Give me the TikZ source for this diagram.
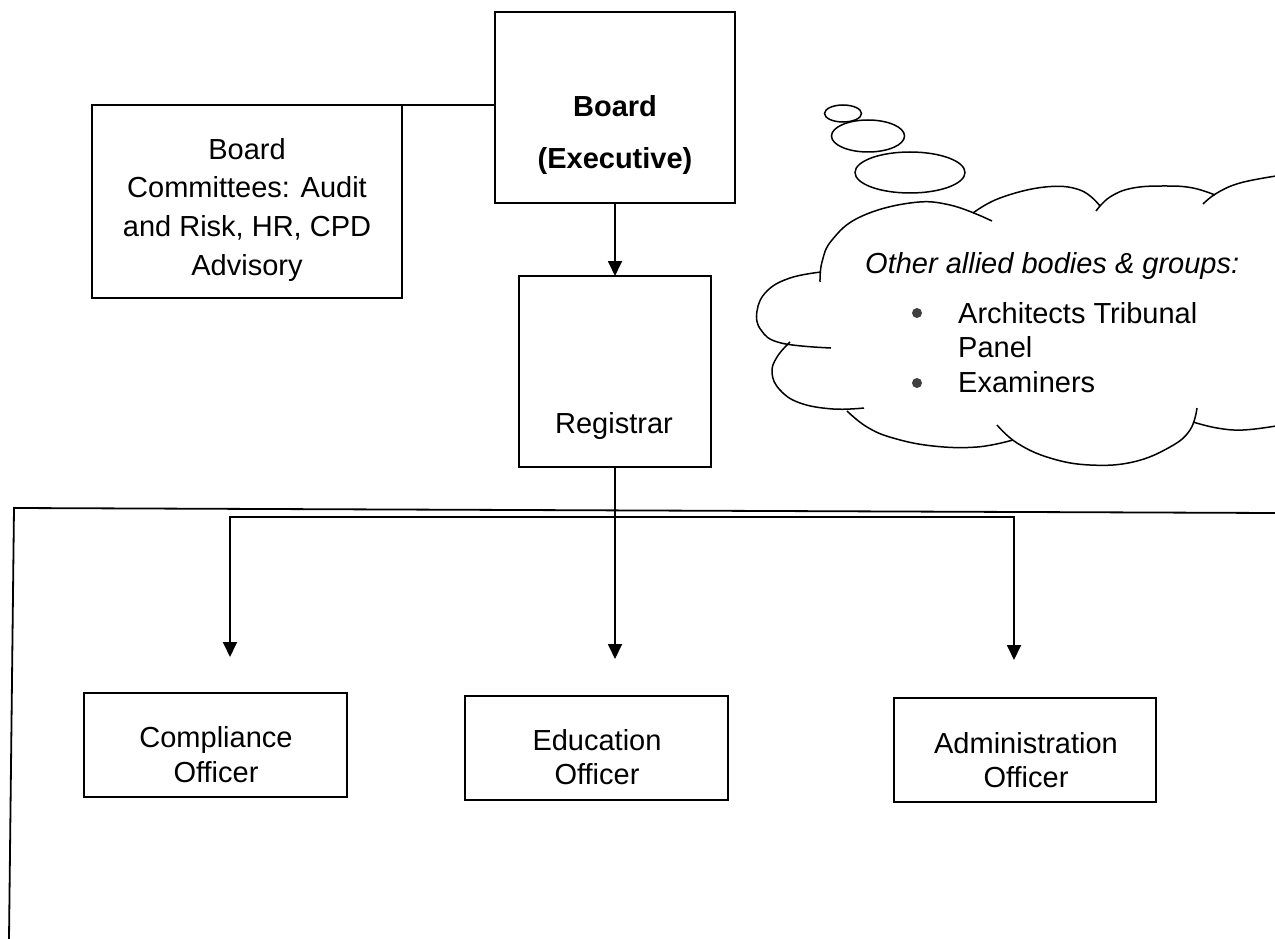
\documentclass[tikz,border=0pt]{standalone}
\usepackage{fontspec}
\setmainfont{Liberation Sans}
\usetikzlibrary{arrows.meta}
\begin{document}
\begin{tikzpicture}[x=1pt,y=-1pt,
  ln/.style={line width=1.8pt, line join=miter},
  box/.style={draw, line width=1.8pt, inner sep=0pt, outer sep=0pt},
  txt/.style={anchor=base, inner sep=0pt, font=\fontsize{29}{34}\selectfont},
  arr/.style={ln, -{Triangle[length=15pt,width=14pt]}},
  cl/.style={line width=1.5pt},
  bullet/.style={circle, fill=black!75, inner sep=0pt, minimum size=10pt}]
\useasboundingbox (0,0) rectangle (1275,939);
\fill[white] (0,0) rectangle (1275,939);

% boxes
\node[box, minimum width=240pt, minimum height=191pt] (board) at (615,107.5) {};
\node[box, minimum width=310pt, minimum height=193pt] (comm) at (247,201.5) {};
\node[box, minimum width=192pt, minimum height=191pt] (reg) at (615,371.5) {};
\node[box, minimum width=263pt, minimum height=104pt] (comp) at (215.5,745) {};
\node[box, minimum width=263pt, minimum height=104pt] (edu) at (596.5,748) {};
\node[box, minimum width=262pt, minimum height=104pt] (adm) at (1025,750) {};

% texts
\node[txt, font=\fontsize{29}{34}\selectfont\bfseries] (boardT1) at (615,117) {Board};
\node[txt, font=\fontsize{29}{34}\selectfont\bfseries] (boardT2) at (615,168) {(Executive)};
\node[txt] (commT1) at (247,160) {Board};
\node[txt] (commT2) at (247,197) {Committees: Audit};
\node[txt] (commT3) at (247,236) {and Risk, HR, CPD};
\node[txt] (commT4) at (247,275) {Advisory};
\node[txt] (regT) at (614,433) {Registrar};
\node[txt] (compT1) at (216,747) {Compliance};
\node[txt] (compT2) at (216,782) {Officer};
\node[txt] (eduT1) at (597,750) {Education};
\node[txt] (eduT2) at (597,784) {Officer};
\node[txt] (admT1) at (1026,753) {Administration};
\node[txt] (admT2) at (1026,787) {Officer};

% frame
\draw[ln] (1275,513) -- (14,508) -- (9,939);

% connectors
\draw[ln] (comm.north east) -- (comm.north east -| board.west);
\draw[arr] (board.south) -- (reg.north);
\coordinate (J) at (615,517);
\coordinate (tipC) at (230,657);
\coordinate (tipE) at (615,659);
\coordinate (tipA) at (1014,660);
\draw[ln] (reg.south) -- (J);
\draw[arr] (J) -- (tipE);
\draw[arr] (J) -| (tipC);
\draw[arr] (J) -| (tipA);

% thought bubbles
\draw[cl] (843,113.5) ellipse [x radius=18.5, y radius=8.5];
\draw[cl] (868,136) ellipse [x radius=36.5, y radius=16];
\draw[cl] (910,172.5) ellipse [x radius=55, y radius=20.5];

% cloud
\draw[cl] plot[smooth, tension=0.7] coordinates {(820,282) (822,262) (832,240) (860,217) (910,203) (950,205) (992,221)};
\draw[cl] plot[smooth, tension=0.7] coordinates {(973,213) (1000,198) (1045,187) (1080,190) (1100,206)};
\draw[cl] plot[smooth, tension=0.7] coordinates {(1096,211) (1110,197) (1133,188) (1167,186) (1193,188) (1215,195)};
\draw[cl] plot[smooth, tension=0.7] coordinates {(1203,204) (1217,193) (1240,183) (1276,176)};
\draw[cl] plot[smooth, tension=0.7] coordinates {(821,272) (790,278) (767,291) (757,311) (761,330) (781,343) (831,348)};
\draw[cl] plot[smooth, tension=0.7] coordinates {(790,342) (777,357) (772,373) (780,390) (800,403) (833,409) (864,408)};
\draw[cl] plot[smooth, tension=0.7] coordinates {(847,411) (867,427) (893,438) (933,446) (977,447) (1013,440)};
\draw[cl] plot[smooth, tension=0.7] coordinates {(997,425) (1017,443) (1050,458) (1090,465) (1133,462) (1170,447) (1190,430) (1197,408)};
\draw[cl] plot[smooth, tension=0.7] coordinates {(1193,422) (1217,428) (1243,430) (1276,426)};

% cloud text
\node[txt, anchor=base west, font=\fontsize{29}{34}\selectfont\itshape] (allied) at (865,273) {Other allied bodies \& groups:};
\node[bullet] (b1) at (917,313) {};
\node[bullet] (b2) at (917,383) {};
\node[txt, anchor=base west] (it1a) at (958,323) {Architects Tribunal};
\node[txt, anchor=base west] (it1b) at (958,357) {Panel};
\node[txt, anchor=base west] (it2) at (958,392) {Examiners};
\end{tikzpicture}
\end{document}
